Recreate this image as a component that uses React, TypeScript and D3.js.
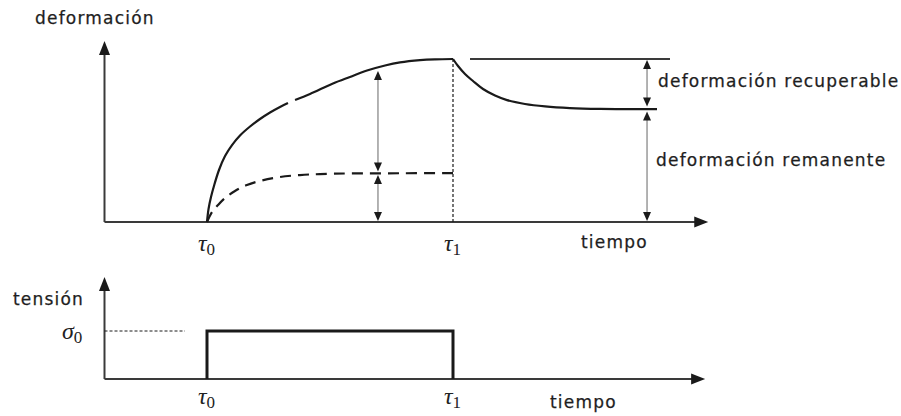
import React from "react";
import * as d3 from "d3";

// ---- data (time in arbitrary units, deformation / stress normalised) ----
const TAU0 = 1.0;
const TAU1 = 3.4;

// creep curve (solid) — null marks a small break in the original drawing
const creepCurve: ([number, number] | null)[] = [
  [1.0, 0], [1.015, 0.08], [1.039, 0.153], [1.068, 0.221], [1.117, 0.319],
  [1.176, 0.405], [1.244, 0.472], [1.322, 0.531], [1.42, 0.586], [1.517, 0.632],
  [1.615, 0.672], [1.712, 0.706], [1.79, 0.73], null, [1.859, 0.748],
  [2.005, 0.785], [2.229, 0.85], [2.395, 0.89], [2.561, 0.929], [2.737, 0.96],
  [2.883, 0.979], [3.078, 0.993], [3.224, 0.998], [3.4, 1.0],
];

// recovery after unloading
const recoveryCurve: [number, number][] = [
  [3.4, 1.0], [3.449, 0.957], [3.517, 0.908], [3.595, 0.865], [3.693, 0.816],
  [3.81, 0.776], [3.927, 0.748], [4.102, 0.724], [4.298, 0.709], [4.541, 0.699],
  [4.834, 0.694], [5.127, 0.693], [5.39, 0.693],
];

// remanent-part curve (dashed)
const dashedCurve: [number, number][] = [
  [1.0, 0], [1.049, 0.061], [1.107, 0.104], [1.176, 0.147], [1.273, 0.19],
  [1.39, 0.227], [1.537, 0.255], [1.712, 0.276], [1.907, 0.288], [2.102, 0.294],
  [2.395, 0.298], [2.883, 0.299], [3.4, 0.3],
];

// reference line at peak deformation
const peakLine: [number, number][] = [[3.566, 1.0], [5.517, 1.0]];

// dimension arrows: [t, from, to]
const dimArrows: [number, number, number][] = [
  [2.668, 0.926, 0.31],
  [2.668, 0.288, 0.006],
  [5.293, 0.994, 0.708],
  [5.293, 0.678, 0.006],
];

// stress step
const stressStep: [number, number][] = [
  [TAU0, 0], [TAU0, 1], [TAU1, 1], [TAU1, 0],
];
const sigmaGuide: [number, number][] = [[0, 1], [0.785, 1]];

const topAxisEnd = { t: 5.89, e: 1.11 };
const botAxisEnd = { t: 5.86, s: 2.125 };

const labels = {
  yTop: "deformación",
  xTop: "tiempo",
  yBot: "tensión",
  xBot: "tiempo",
  recoverable: "deformación recuperable",
  remanent: "deformación remanente",
};

export default function App() {
  const W = 901, H = 416;
  const x = d3.scaleLinear().domain([0, 6]).range([104.5, 719.5]);
  const yT = d3.scaleLinear().domain([0, 1]).range([222, 59]);
  const yB = d3.scaleLinear().domain([0, 1]).range([379, 331]);

  const lineT = d3
    .line<[number, number] | null>()
    .defined((d) => d !== null)
    .x((d) => x((d as [number, number])[0]))
    .y((d) => yT((d as [number, number])[1]))
    .curve(d3.curveCatmullRom.alpha(0.5));
  const lineTL = d3
    .line<[number, number]>()
    .x((d) => x(d[0]))
    .y((d) => yT(d[1]));
  const lineB = d3
    .line<[number, number]>()
    .x((d) => x(d[0]))
    .y((d) => yB(d[1]));

  const ink = "#1a1a1a";
  const axisCol = "#3a3a3a";
  const textStyle: React.CSSProperties = {
    fontFamily: "'DejaVu Sans', Verdana, sans-serif",
    fontSize: 17,
    letterSpacing: 1.2,
    fill: "#1e1e1e",
    stroke: "#1e1e1e",
    strokeWidth: 0.25,
  };
  const mathStyle: React.CSSProperties = {
    fontFamily: "'Liberation Serif', 'DejaVu Serif', serif",
    fontSize: 24,
    fontStyle: "italic",
    fill: "#222",
  };
  const subStyle: React.CSSProperties = {
    fontFamily: "'Liberation Serif', 'DejaVu Serif', serif",
    fontSize: 17,
    fontStyle: "normal",
  };

  const upHead = (cx: number, tip: number, hw: number, len: number) =>
    `M${cx},${tip} L${cx - hw},${tip + len} L${cx + hw},${tip + len} Z`;
  const downHead = (cx: number, tip: number, hw: number, len: number) =>
    `M${cx},${tip} L${cx - hw},${tip - len} L${cx + hw},${tip - len} Z`;
  const rightHead = (tipX: number, cy: number, hw: number, len: number) =>
    `M${tipX},${cy} L${tipX - len},${cy - hw} L${tipX - len},${cy + hw} Z`;

  const x0 = x(0);
  const topBase = yT(0);
  const botBase = yB(0);

  const tauLabel = (t: number, baseline: number, sub: string) => (
    <text x={x(t) - 9} y={baseline} style={mathStyle}>
      τ
      <tspan dy={4} style={subStyle}>
        {sub}
      </tspan>
    </text>
  );

  return (
    <svg
      width={W}
      height={H}
      style={{ position: "absolute", left: 0, top: 0, background: "#fff" }}
    >
      {/* ===== top chart ===== */}
      <line x1={x0} y1={topBase} x2={x0} y2={yT(topAxisEnd.e) + 12} stroke={axisCol} strokeWidth={2} />
      <path d={upHead(x0, yT(topAxisEnd.e), 5.5, 14)} fill={ink} />
      <line x1={x0} y1={topBase} x2={x(topAxisEnd.t) - 12} y2={topBase} stroke={axisCol} strokeWidth={2} />
      <path d={rightHead(x(topAxisEnd.t), topBase, 5.5, 14)} fill={ink} />

      <line
        x1={x(TAU1)}
        x2={x(TAU1)}
        y1={yT(1)}
        y2={topBase}
        stroke={ink}
        strokeWidth={1.2}
        strokeDasharray="3,2"
      />

      <path d={lineT(creepCurve) || ""} fill="none" stroke={ink} strokeWidth={2.2} />
      <path d={lineT(recoveryCurve) || ""} fill="none" stroke={ink} strokeWidth={2.2} />
      <path
        d={lineT(dashedCurve) || ""}
        fill="none"
        stroke={ink}
        strokeWidth={2.2}
        strokeDasharray="11,7"
      />
      <path d={lineTL(peakLine) || ""} fill="none" stroke={axisCol} strokeWidth={1.8} />

      {dimArrows.map(([t, a, b], i) => {
        const cx = x(t);
        const y1 = yT(a);
        const y2 = yT(b);
        return (
          <g key={i}>
            <line x1={cx} x2={cx} y1={y1 + 6} y2={y2 - 6} stroke="#8a8a8a" strokeWidth={1.3} />
            <path d={upHead(cx, y1, 4, 9)} fill={ink} />
            <path d={downHead(cx, y2, 4, 9)} fill={ink} />
          </g>
        );
      })}

      <text x={35} y={24} style={textStyle}>{labels.yTop}</text>
      <text x={581} y={248} style={textStyle}>{labels.xTop}</text>
      <text x={658} y={87} style={textStyle}>{labels.recoverable}</text>
      <text x={656} y={166} style={textStyle}>{labels.remanent}</text>
      {tauLabel(TAU0, 251, "0")}
      {tauLabel(TAU1, 251, "1")}

      {/* ===== bottom chart ===== */}
      <line x1={x0} y1={botBase} x2={x0} y2={yB(botAxisEnd.s) + 12} stroke={axisCol} strokeWidth={2} />
      <path d={upHead(x0, yB(botAxisEnd.s), 5.5, 14)} fill={ink} />
      <line x1={x0} y1={botBase} x2={x(botAxisEnd.t) - 12} y2={botBase} stroke={axisCol} strokeWidth={2} />
      <path d={rightHead(x(botAxisEnd.t), botBase, 5.5, 14)} fill={ink} />

      <path d={lineB(sigmaGuide) || ""} fill="none" stroke={ink} strokeWidth={1} strokeDasharray="3,2" />
      <path d={lineB(stressStep) || ""} fill="none" stroke={ink} strokeWidth={3} />

      <text x={13} y={305} style={textStyle}>{labels.yBot}</text>
      <text x={550} y={408} style={textStyle}>{labels.xBot}</text>
      <text x={62} y={339} style={mathStyle}>
        σ
        <tspan dy={4} style={subStyle}>0</tspan>
      </text>
      {tauLabel(TAU0, 404, "0")}
      {tauLabel(TAU1, 404, "1")}
    </svg>
  );
}
